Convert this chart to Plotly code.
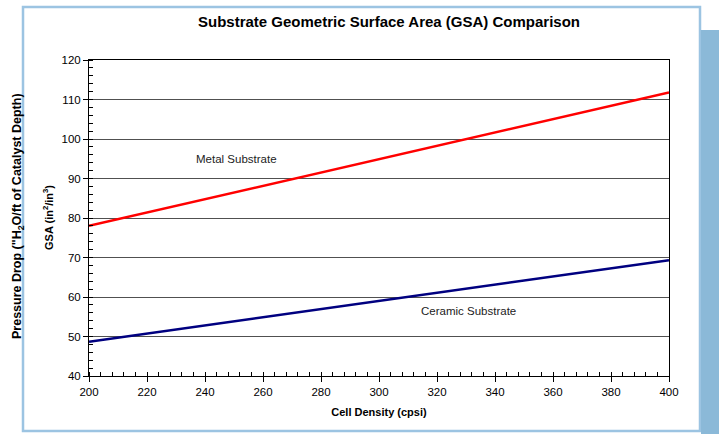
import plotly.graph_objects as go

cell_density = [200, 400]
metal_gsa = [78, 111.8]
ceramic_gsa = [48.7, 69.3]

x_ticks = [200, 220, 240, 260, 280, 300, 320, 340, 360, 380, 400]
y_ticks = [40, 50, 60, 70, 80, 90, 100, 110, 120]

labels = ["Metal Substrate", "Ceramic Substrate"]
label_x = [251, 331]
label_y = [95, 56.4]

FONT = "Liberation Sans, Arial, sans-serif"
W, H = 719, 434
L, R, T, B = 89, 50, 60, 58
pw, ph = W - L - R, H - T - B

def px(x):
    return (x - L) / pw

def py(y):
    return (H - B - y) / ph

fig = go.Figure()
fig.add_trace(go.Scatter(x=cell_density, y=metal_gsa, mode="lines",
                         line=dict(color="#ff0000", width=2.5), showlegend=False))
fig.add_trace(go.Scatter(x=cell_density, y=ceramic_gsa, mode="lines",
                         line=dict(color="#000080", width=2.5), showlegend=False))

for t, xx, yy in zip(labels, label_x, label_y):
    fig.add_annotation(x=xx, y=yy, text=t, showarrow=False,
                       font=dict(family=FONT, size=11.5, color="#222222"))

fig.add_annotation(xref="paper", yref="paper", x=px(48), y=py(218),
                   xanchor="center", yanchor="middle",
                   text="<b>GSA (in<sup>2</sup>/in<sup>3</sup>)</b>", textangle=-90,
                   showarrow=False, font=dict(family=FONT, size=11, color="#000000"))
fig.add_annotation(xref="paper", yref="paper", x=px(18), y=py(216),
                   xanchor="center", yanchor="middle",
                   text="<b>Pressure Drop (\"H<sub>2</sub>O/ft of Catalyst Depth)</b>",
                   textangle=-90, showarrow=False,
                   font=dict(family=FONT, size=12.5, color="#000000"))

# outer frame and right strip
fig.add_shape(type="rect", xref="paper", yref="paper",
              x0=px(23), x1=px(700), y0=py(431), y1=py(7),
              line=dict(color="#9cc4e2", width=2.5), fillcolor="rgba(0,0,0,0)", layer="below")
fig.add_shape(type="rect", xref="paper", yref="paper",
              x0=px(701), x1=px(722), y0=py(440), y1=py(30),
              line=dict(width=0), fillcolor="#8bb9d8", layer="below")

fig.update_layout(
    width=W, height=H,
    margin=dict(l=L, r=R, t=T, b=B),
    paper_bgcolor="white", plot_bgcolor="white",
    title=dict(text="<b>Substrate Geometric Surface Area (GSA) Comparison</b>",
               x=389 / W, xanchor="center", y=1 - 22 / H, yanchor="middle",
               font=dict(family=FONT, size=15, color="#000000")),
    font=dict(family=FONT, size=11, color="#000000"),
)
fig.update_xaxes(range=[200, 400], tickvals=x_ticks, ticks="outside", ticklen=5,
                 tickcolor="#000000", showgrid=False, showline=True, linecolor="#000000",
                 linewidth=1, mirror=True, zeroline=False,
                 minor=dict(dtick=4, ticks="inside", ticklen=4, tickcolor="#000000"),
                 tickfont=dict(family=FONT, size=11.5),
                 title=dict(text="<b>Cell Density (cpsi)</b>", standoff=11,
                            font=dict(family=FONT, size=11)))
fig.update_yaxes(range=[40, 120], tickvals=y_ticks, ticks="outside", ticklen=5,
                 tickcolor="#000000", showgrid=True, gridcolor="#505050", gridwidth=1,
                 showline=True, linecolor="#000000", linewidth=1, mirror=True,
                 zeroline=False,
                 minor=dict(dtick=2, ticks="inside", ticklen=4, tickcolor="#000000",
                            showgrid=False),
                 tickfont=dict(family=FONT, size=11.5))

fig.write_html("out.html", config={"displayModeBar": False},
               post_script="document.body.style.margin='0';document.body.style.overflow='hidden';")
